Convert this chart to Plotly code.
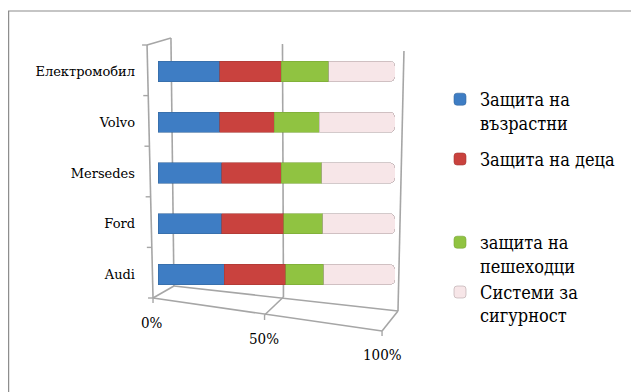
import plotly.graph_objects as go

categories = ["Audi", "Ford", "Mersedes", "Volvo", "Електромобил"]
series_names = [
    "Защита на<br>възрастни",
    "Защита на деца<br><span style='color:rgba(0,0,0,0)'>.</span><br><span style='color:rgba(0,0,0,0)'>.</span>",
    "защита на<br>пешеходци",
    "Системи за<br>сигурност",
]
adults = [28, 27, 27, 26, 26]
children = [26, 26, 25, 23, 26]
pedestrians = [16, 16.5, 17, 19, 20]
safety = [30, 30.5, 31, 32, 28]
tick_values = [0, 50, 100]
tick_labels = ["0%", "50%", "100%"]

colors = ["#3e7dc4", "#c9423e", "#90c341", "#f7e6e8"]
line_colors = ["#35689f", "#a63834", "#79a536", "#b5a6a8"]
groups = ["g0", "g1", "g2", "g2"]

W, H = 631, 392
L, R, T, B = 158, 235, 46, 92
PW, PH = W - L - R, H - T - B


def px(x):
    return (x - L) / PW


def py(y):
    return 1 - (y - T) / PH


FONT_CAT = "DejaVu Serif"
FONT_LEG = "DejaVu Serif Condensed"
FONT_TICK = "DejaVu Serif Condensed"

fig = go.Figure()
for name, vals, c, lc, g in zip(series_names, [adults, children, pedestrians, safety], colors, line_colors, groups):
    fig.add_trace(go.Bar(
        y=categories, x=vals, orientation="h", name=name, legendgroup=g,
        marker=dict(color=c, line=dict(color=lc, width=0.6)),
        width=0.40,
    ))

shapes = []
shapes.append(dict(type="rect", xref="paper", yref="paper", x0=px(8), x1=px(W + 20), y0=py(11), y1=py(H + 20),
                   line=dict(color="#8c8c8c", width=1.2), fillcolor="rgba(0,0,0,0)", layer="below"))
frame_lines = [
    ((147, 45), (153, 298)),
    ((147, 45), (171, 38)),
    ((171, 38), (174, 286)),
    ((153, 298), (174, 286)),
    ((153, 298), (383, 331)),
    ((174, 286), (399, 311)),
    ((283, 44), (284, 297)),
    ((265, 315), (284, 297)),
    ((405, 51), (399, 311)),
    ((383, 331), (399, 311)),
]
for (x0, y0), (x1, y1) in frame_lines:
    shapes.append(dict(type="line", xref="paper", yref="paper", x0=px(x0), y0=py(y0), x1=px(x1), y1=py(y1),
                       line=dict(color="#a6a6a6", width=1.6), layer="below"))
for i in range(6):
    yy = 45 + i * (298 - 45) / 5
    xx = 147 + (153 - 147) * (yy - 45) / (298 - 45)
    shapes.append(dict(type="line", xref="paper", yref="paper", x0=px(xx - 5), y0=py(yy), x1=px(xx), y1=py(yy),
                       line=dict(color="#a6a6a6", width=1.4), layer="below"))
for tx, ty in [(153, 298), (265, 315), (383, 331)]:
    shapes.append(dict(type="line", xref="paper", yref="paper", x0=px(tx), y0=py(ty), x1=px(tx), y1=py(ty + 5),
                       line=dict(color="#a6a6a6", width=1.4), layer="below"))

annotations = []
tick_px = [(152, 323), (264, 339), (383, 355)]
for v, lab, (tx, ty) in zip(tick_values, tick_labels, tick_px):
    annotations.append(dict(x=v, xref="x", y=py(ty), yref="paper", text=lab, showarrow=False,
                            xshift=(tx - (L + PW * v / 100)), font=dict(family=FONT_TICK, size=15, color="#000"),
                            xanchor="center", yanchor="middle"))

fig.update_layout(
    width=W, height=H,
    margin=dict(l=L, r=R, t=T, b=B),
    paper_bgcolor="white", plot_bgcolor="rgba(0,0,0,0)",
    barmode="stack", barnorm="percent",
    barcornerradius=5,
    showlegend=True,
    legend=dict(x=px(440), xanchor="left", y=py(81), yanchor="top",
                font=dict(family=FONT_LEG, size=18, color="#000"),
                valign="top", traceorder="grouped", tracegroupgap=10,
                bgcolor="rgba(0,0,0,0)", itemwidth=30),
    xaxis=dict(range=[0, 100], showgrid=False, zeroline=False, showticklabels=False, showline=False,
               fixedrange=True),
    yaxis=dict(showgrid=False, zeroline=False, showline=False, ticks="",
               tickfont=dict(family=FONT_CAT, size=13, color="#000"), ticklabelstandoff=22,
               range=[-0.5, 4.5]),
    shapes=shapes,
    annotations=annotations,
)

fig.write_html("out.html")
